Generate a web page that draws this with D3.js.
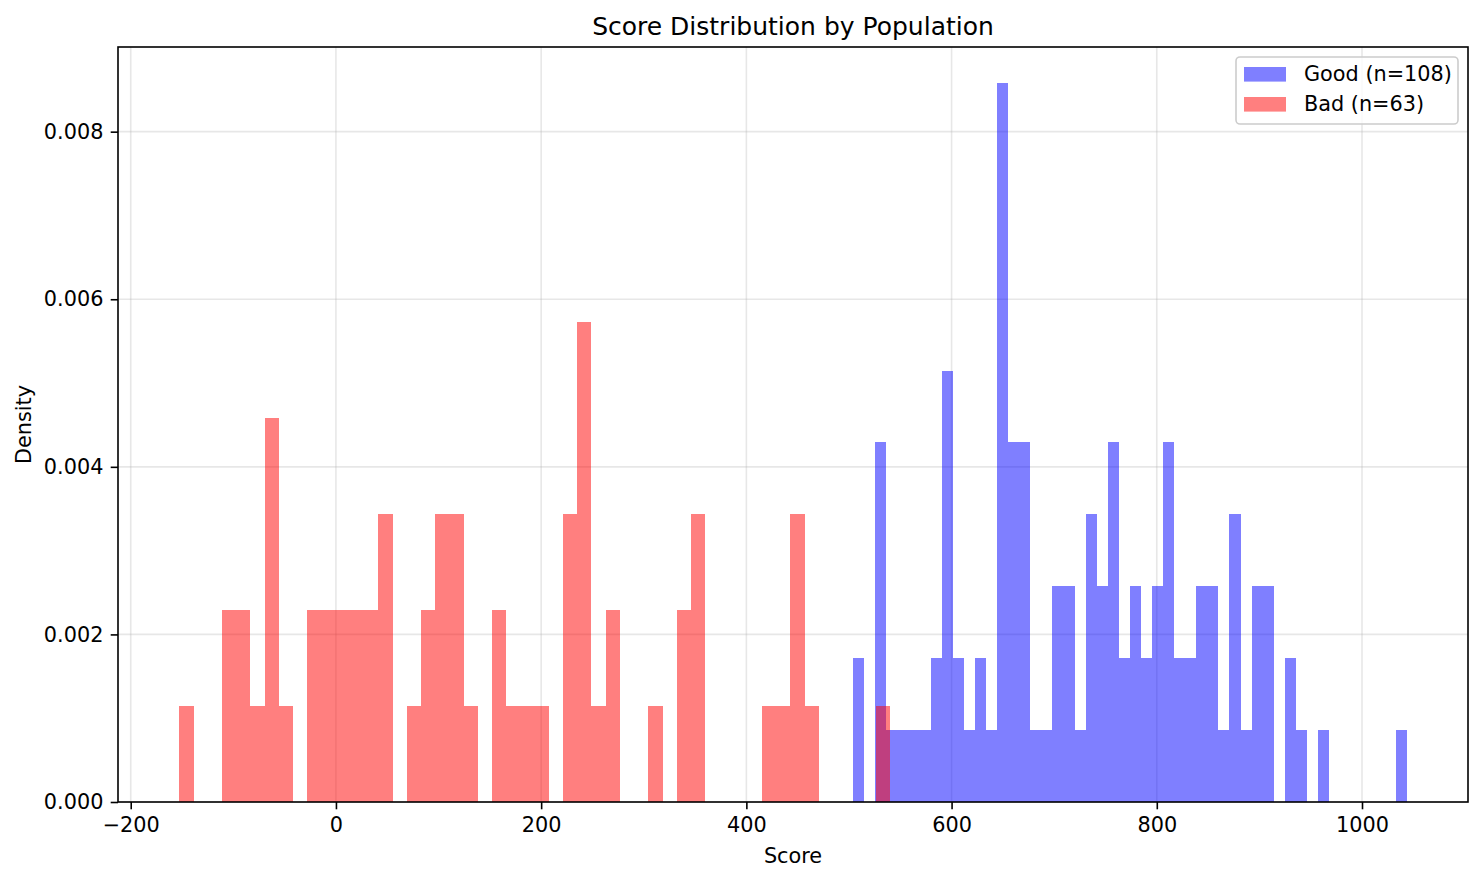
<!DOCTYPE html>
<html>
<head>
<meta charset="utf-8">
<script src="https://cdn.jsdelivr.net/npm/d3@7"></script>
<style>
  body { margin: 0; background: #fff; }
  svg text { font-family: "DejaVu Sans", sans-serif; fill: #000; }
</style>
</head>
<body>
<div id="chart"></div>
<script>
// histogram bins (50 bins per population)
const goodLabel = 'Good (n=108)';
const badLabel  = 'Bad (n=63)';
const goodN = 108;
const badN  = 63;
const goodStart = 504.0, goodWidth = 10.79;
const badStart  = -152.6, badWidth = 13.85;
const goodCounts = [2,0,5,1,1,1,1,2,6,2, 1,2,1,10,5,5,1,1,3,3, 1,4,3,5,2,3,2,3,5,2,
                    2,3,3,1,4,1,3,3,0,2, 1,0,1,0,0,0,0,0,0,1];
const badCounts  = [1,0,0,2,2,1,4,1,0,2, 2,2,2,2,3,0,1,2,3,3, 1,0,2,1,1,1,0,3,5,1,
                    2,0,0,1,0,2,3,0,0,0, 0,1,1,3,1,0,0,0,0,1];
const xTicks = [-200, 0, 200, 400, 600, 800, 1000];
const yTicks = [0, 0.002, 0.004, 0.006, 0.008];

const W = 1484, H = 881;
const m = { left: 118, right: 1468, top: 47, bottom: 802 };

const toBins = (start, width, counts, n) => counts.map((c, i) => ({
  x0: start + i * width, x1: start + (i + 1) * width, d: c / (n * width)
}));
const goodBins = toBins(goodStart, goodWidth, goodCounts, goodN);
const badBins  = toBins(badStart, badWidth, badCounts, badN);

const lo = badStart, hi = goodStart + goodCounts.length * goodWidth;
const pad = (hi - lo) * 0.05;
const x = d3.scaleLinear().domain([lo - pad, hi + pad]).range([m.left, m.right]);
const yMax = d3.max(goodBins.concat(badBins), b => b.d) * 1.05;
const y = d3.scaleLinear().domain([0, yMax]).range([m.bottom, m.top]);

const svg = d3.select('#chart').append('svg').attr('width', W).attr('height', H);

// grid
const grid = svg.append('g').attr('stroke', '#b0b0b0').attr('stroke-opacity', 0.3).attr('stroke-width', 1.6);
grid.selectAll('line.vx').data(xTicks).join('line')
  .attr('x1', d => x(d)).attr('x2', d => x(d)).attr('y1', m.top).attr('y2', m.bottom);
grid.selectAll('line.hy').data(yTicks).join('line')
  .attr('x1', m.left).attr('x2', m.right).attr('y1', d => y(d)).attr('y2', d => y(d));

// bars
function drawBars(bins, color) {
  svg.append('g').attr('shape-rendering', 'crispEdges')
    .selectAll('rect').data(bins.filter(b => b.d > 0)).join('rect')
    .attr('x', b => x(b.x0)).attr('width', b => x(b.x1) - x(b.x0))
    .attr('y', b => y(b.d)).attr('height', b => y(0) - y(b.d))
    .attr('fill', color).attr('fill-opacity', 0.5);
}
drawBars(goodBins, '#0000ff');
drawBars(badBins, '#ff0000');

// axes
const fmtX = d => d < 0 ? '\u2212' + Math.abs(d) : String(d);
const xAxis = svg.append('g').attr('transform', `translate(0,${m.bottom})`)
  .call(d3.axisBottom(x).tickValues(xTicks).tickFormat(fmtX).tickSize(7.3).tickPadding(7));
const yAxis = svg.append('g').attr('transform', `translate(${m.left},0)`)
  .call(d3.axisLeft(y).tickValues(yTicks).tickFormat(d3.format('.3f')).tickSize(7.3).tickPadding(7.3));
[xAxis, yAxis].forEach(a => {
  a.select('.domain').remove();
  a.selectAll('.tick line').attr('stroke', '#000').attr('stroke-width', 1.6);
  a.selectAll('.tick text').attr('font-size', 20.8).attr('font-family', '"DejaVu Sans", sans-serif');
});
xAxis.selectAll('.tick text').attr('dy', '0.76em');

svg.append('rect').attr('x', m.left).attr('y', m.top)
  .attr('width', m.right - m.left).attr('height', m.bottom - m.top)
  .attr('fill', 'none').attr('stroke', '#000').attr('stroke-width', 1.6);

// labels
svg.append('text').attr('x', (m.left + m.right) / 2).attr('y', 34.5)
  .attr('text-anchor', 'middle').attr('font-size', 25).text('Score Distribution by Population');
svg.append('text').attr('x', (m.left + m.right) / 2).attr('y', 863)
  .attr('text-anchor', 'middle').attr('font-size', 20.8).text('Score');
svg.append('text').attr('transform', `translate(31,${(m.top + m.bottom) / 2}) rotate(-90)`)
  .attr('text-anchor', 'middle').attr('font-size', 20.8).text('Density');

// legend
const lg = svg.append('g');
lg.append('rect').attr('x', 1236).attr('y', 57).attr('width', 222).attr('height', 67)
  .attr('rx', 4).attr('fill', '#fff').attr('fill-opacity', 0.8)
  .attr('stroke', '#cccccc').attr('stroke-width', 1.6);
[[goodLabel, '#0000ff'], [badLabel, '#ff0000']].forEach(([lab, col], i) => {
  lg.append('rect').attr('x', 1244).attr('y', 67 + i * 30).attr('width', 42).attr('height', 14.6)
    .attr('fill', col).attr('fill-opacity', 0.5);
  lg.append('text').attr('x', 1304).attr('y', 81 + i * 30).attr('font-size', 20.8).text(lab);
});
</script>
</body>
</html>
